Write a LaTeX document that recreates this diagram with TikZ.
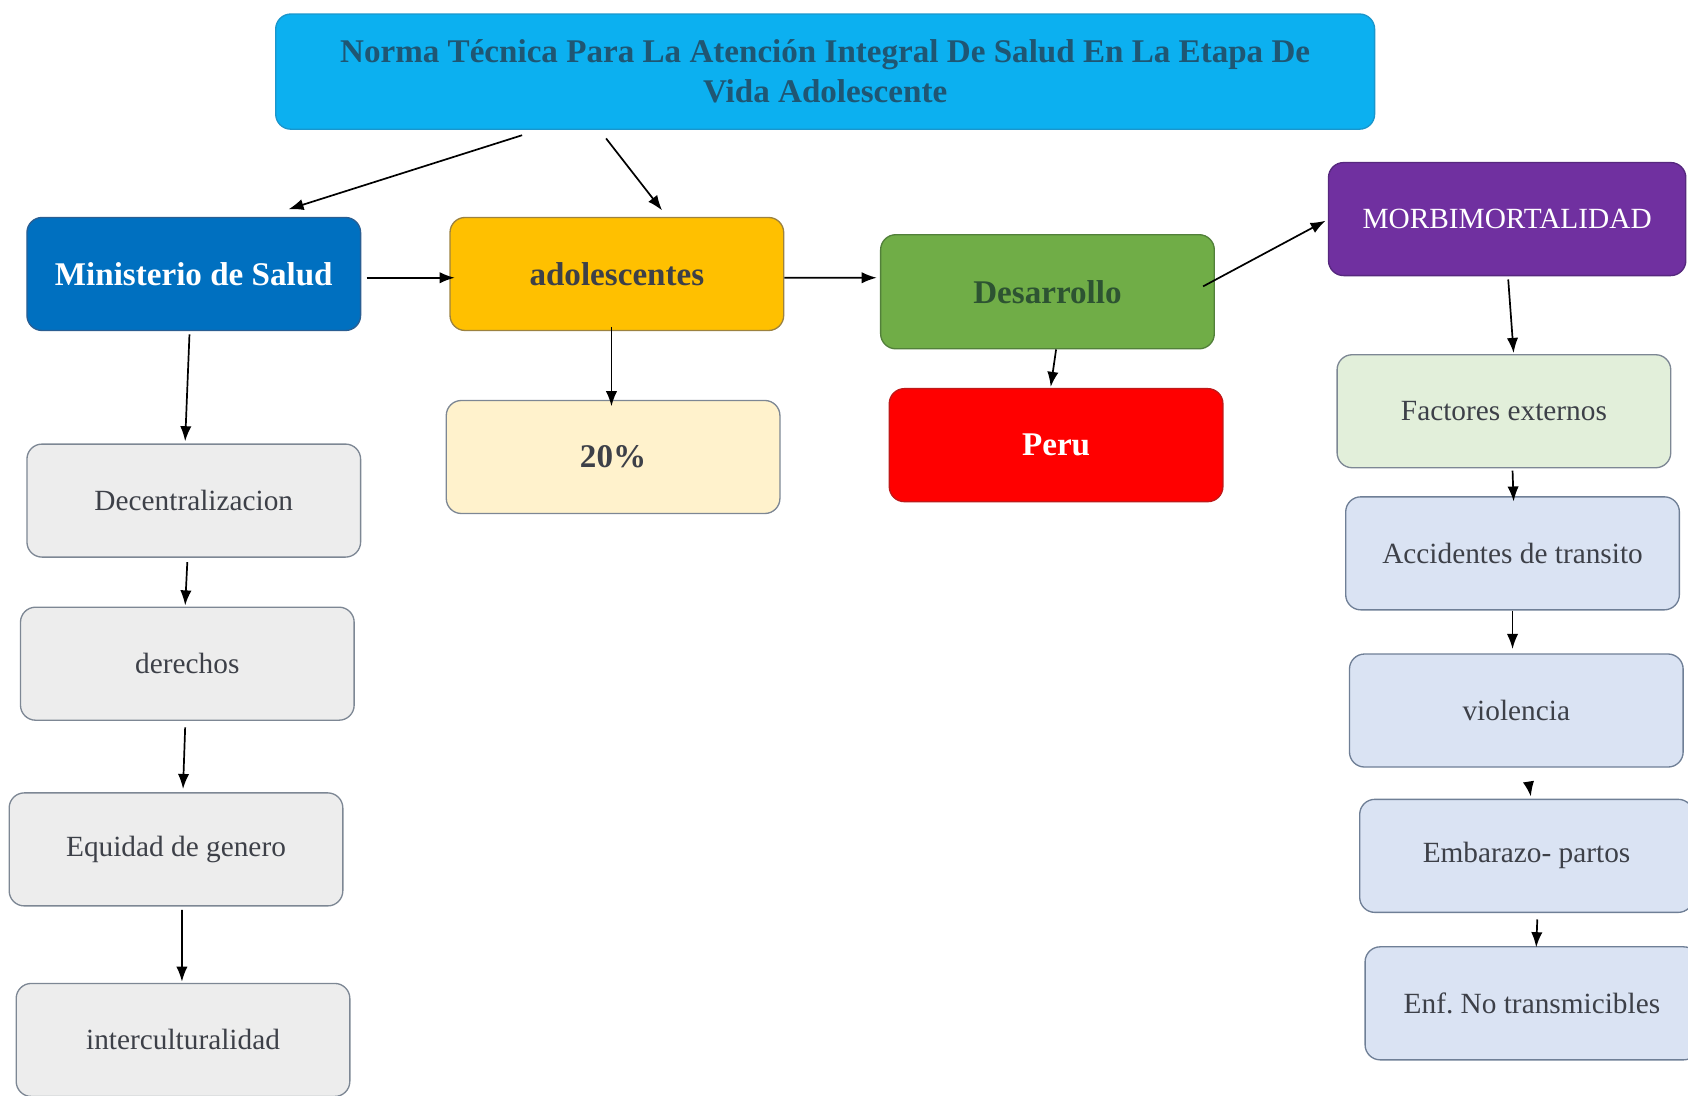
\documentclass[tikz,border=0pt]{standalone}
\usepackage{fontspec}
\setmainfont{LiberationSerif}[Extension=.ttf, UprightFont=*-Regular, BoldFont=*-Bold, ItalicFont=*-Italic, BoldItalicFont=*-BoldItalic]
\usetikzlibrary{arrows.meta,calc}

\definecolor{titleblue}{HTML}{0CB0F0}
\definecolor{titleedge}{HTML}{1A96CC}
\definecolor{titletext}{HTML}{1F5673}
\definecolor{minsblue}{HTML}{0070C0}
\definecolor{minsedge}{HTML}{2A5E92}
\definecolor{adolyellow}{HTML}{FFC000}
\definecolor{adoledge}{HTML}{9C8240}
\definecolor{desagreen}{HTML}{70AD47}
\definecolor{desaedge}{HTML}{52803A}
\definecolor{desatext}{HTML}{2D5332}
\definecolor{morbpurple}{HTML}{7030A0}
\definecolor{morbedge}{HTML}{56287E}
\definecolor{pctcream}{HTML}{FFF2CC}
\definecolor{peruedge}{HTML}{C01818}
\definecolor{boxgray}{HTML}{EDEDED}
\definecolor{edgegray}{HTML}{7D8794}
\definecolor{factgreen}{HTML}{E2EFDA}
\definecolor{boxblue}{HTML}{DAE3F3}
\definecolor{edgeblue}{HTML}{6F7F96}
\definecolor{textgray}{HTML}{3D4048}

\begin{document}
\begin{tikzpicture}[x=0.02cm, y=-0.02cm,
	box/.style={draw, rounded corners=0.28cm, line width=0.7pt, minimum width=6.2cm, minimum height=2.1cm, align=center, text=textgray, font=\fontsize{15.5}{18}\selectfont},
	boldbox/.style={box, font=\fontsize{17.5}{21}\selectfont\bfseries},
	greybox/.style={box, fill=boxgray, draw=edgegray},
	bluebox/.style={box, fill=boxblue, draw=edgeblue},
	arr/.style={-{Latex[length=2.8mm,width=2.1mm]}, line width=0.9pt}]
	\clip (0,0) rectangle (1568,1018);
	\node [boldbox, fill=titleblue, draw=titleedge, text=titletext, minimum width=20.42cm, minimum height=2.14cm] (title) at (766.5,66.5) {Norma Técnica Para La Atención Integral De Salud En La Etapa De\\Vida Adolescente};
	\node [boldbox, fill=minsblue, draw=minsedge, text=white] (mins) at (180,254.5) {Ministerio de Salud};
	\node [boldbox, fill=adolyellow, draw=adoledge, text=textgray] (adol) at (573,254.5) {adolescentes};
	\node [boldbox, fill=desagreen, draw=desaedge, text=desatext, minimum height=2.12cm] (desa) at (973,271) {Desarrollo};
	\node [box, fill=morbpurple, draw=morbedge, text=white, minimum width=6.64cm] (morb) at (1400,203.5) {MORBIMORTALIDAD};
	\node [boldbox, fill=pctcream, draw=edgegray] (pct) at (569.5,424.5) {20\%};
	\node [boldbox, fill=red, draw=peruedge, text=white] (peru) at (981,413.5) {Peru};
	\node [greybox] (dece) at (180,465) {Decentralizacion};
	\node [greybox] (dere) at (174,616.5) {derechos};
	\node [greybox] (equi) at (163.5,789) {Equidad de genero};
	\node [greybox] (inte) at (170,966) {interculturalidad};
	\node [box, fill=factgreen, draw=edgegray] (fact) at (1397,382) {Factores externos};
	\node [bluebox] (acci) at (1405,514) {Accidentes de transito};
	\node [bluebox] (viol) at (1408.5,660) {violencia};
	\node [bluebox] (emba) at (1418,795) {Embarazo- partos};
	\node [bluebox] (enf) at (1423,932) {Enf.\ No transmicibles};
	\draw [arr] ($(title.south)+(-281.5,5)$) -- ($(mins.north)+(88,-7)$);
	\draw [arr] ($(title.south)+(-203.5,8)$) -- ($(adol.north)+(42,-6)$);
	\draw [arr] ($(mins.east)+(5,3.5)$) -- ($(adol.west)+(5,3.5)$);
	\draw [arr] ($(adol.east)+(0,3.5)$) -- ($(desa.west)+(-3,-13)$);
	\draw [arr] ($(desa.east)+(-11,-5)$) -- ($(morb.west)+(-2,1.5)$);
	\draw [arr] ($(adol.south)+(-5,-4)$) -- ($(pct.north)+(-1.5,6)$);
	\draw [arr] ($(desa.south)+(8,0)$) -- ($(peru.north)+(-5,-1)$);
	\draw [arr] ($(mins.south)+(-4,3)$) -- ($(dece.north)+(-8,-2)$);
	\draw [arr] ($(dece.south)+(-6,4)$) -- ($(dere.north)+(-2,-1)$);
	\draw [arr] ($(dere.south)+(-2,6)$) -- ($(equi.north)+(6.5,-3)$);
	\draw [arr] ($(equi.south)+(5.5,3)$) -- ($(inte.north)+(-1,-1)$);
	\draw [arr] ($(morb.south)+(1,3)$) -- ($(fact.north)+(9,-1)$);
	\draw [arr] ($(fact.south)+(8,2)$) -- ($(acci.north)+(1,5)$);
	\draw [arr] (acci.south) -- ($(viol.north)+(-3.5,-4)$);
	\draw [arr] ($(viol.south)+(11.5,14)$) -- ($(emba.north)+(4,-2)$);
	\draw [arr] ($(emba.south)+(10,6)$) -- ($(enf.north)+(4,1)$);
\end{tikzpicture}
\end{document}
